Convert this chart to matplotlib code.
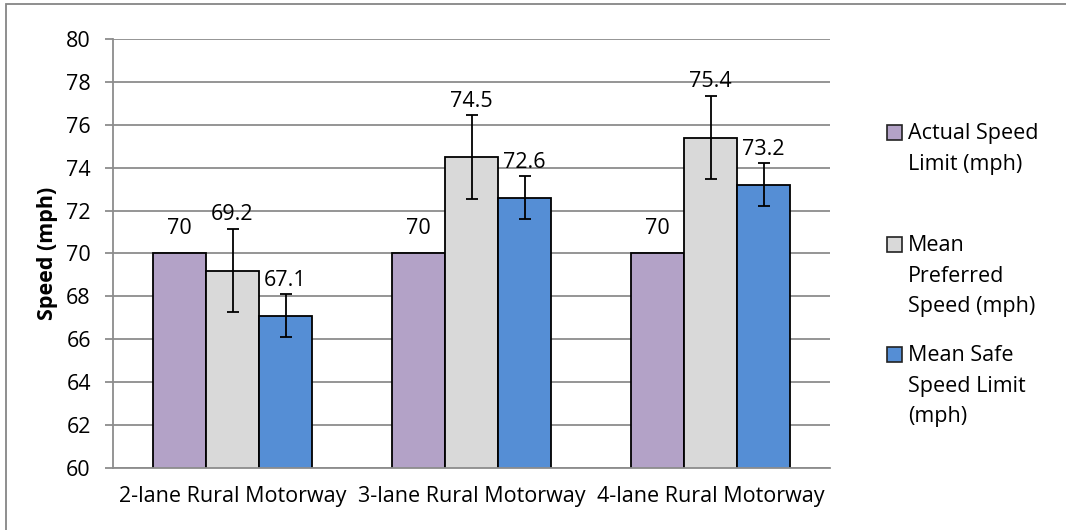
import numpy as np
import matplotlib
matplotlib.use('Agg')
import matplotlib.pyplot as plt
from matplotlib.patches import Rectangle

# data
categories = ['2-lane Rural Motorway', '3-lane Rural Motorway', '4-lane Rural Motorway']
series_names = ['Actual Speed\nLimit (mph)', 'Mean\nPreferred\nSpeed (mph)', 'Mean Safe\nSpeed Limit\n(mph)']
actual_limit = [70, 70, 70]
preferred_speed = [69.2, 74.5, 75.4]
preferred_err = [1.95, 1.95, 1.95]
safe_limit = [67.1, 72.6, 73.2]
safe_err = [1.0, 1.0, 1.0]

colors = ['#B3A2C7', '#D9D9D9', '#558ED5']
grid_col = '#8C8C8C'

plt.rcParams['font.family'] = ['Open Sans', 'DejaVu Sans']
fs = 15.5

fig = plt.figure(figsize=(10.66, 5.30), dpi=100)
ax = fig.add_axes([113 / 1066, 1 - 468 / 530, (830 - 113) / 1066, (468 - 39) / 530])

x = np.arange(len(categories))
w = 0.222
values = [actual_limit, preferred_speed, safe_limit]
errs = [None, preferred_err, safe_err]
label_pad = [18, 10, 10]

for i, (vals, err) in enumerate(zip(values, errs)):
    xs = x + (i - 1) * w
    ax.bar(xs, vals, width=w, color=colors[i], edgecolor='black', linewidth=1.3, zorder=3)
    if err is not None:
        ax.errorbar(xs, vals, yerr=err, fmt='none', ecolor='black', elinewidth=1.3,
                    capsize=4.5, capthick=1.3, zorder=4)
    for xi, v, e in zip(xs, vals, err if err is not None else [0] * len(vals)):
        ax.annotate(f'{v:g}', (xi, v + e), xytext=(0, label_pad[i]), textcoords='offset points',
                    ha='center', va='center', fontsize=fs, color='black', zorder=5)

ax.set_ylim(60, 80)
ax.set_xlim(-0.5, 2.5)
ax.set_yticks(np.arange(60, 81, 2))
ax.set_xticks(x)
ax.set_xticklabels(categories, fontsize=fs)
ax.tick_params(axis='y', labelsize=fs, length=6, width=1.3, color=grid_col, pad=10)
ax.tick_params(axis='x', length=0, pad=13)
ax.yaxis.grid(True, color=grid_col, linewidth=1.3, zorder=0)
ax.set_axisbelow(True)
for s in ['top', 'right']:
    ax.spines[s].set_visible(False)
for s in ['left', 'bottom']:
    ax.spines[s].set_color(grid_col)
    ax.spines[s].set_linewidth(1.3)
ax.spines['bottom'].set_zorder(5)
ax.set_ylabel('Speed (mph)', fontsize=fs, fontweight='bold', labelpad=6)

# legend drawn by hand so the box sits next to the first line
leg_y = [133, 245, 355]
for name, col, yy in zip(series_names, colors, leg_y):
    fig.patches.append(Rectangle((887 / 1066, 1 - (yy + 7) / 530), 15 / 1066, 15 / 530,
                                 transform=fig.transFigure, facecolor=col,
                                 edgecolor='#222222', linewidth=1.2))
    fig.text(908 / 1066, 1 - (yy - 10) / 530, name, fontsize=fs, va='top', ha='left',
             linespacing=1.6)

# outer chart frame (cropped on right/bottom)
fig.patches.append(Rectangle((6 / 1066, -0.1), 1.2, 1 - 4 / 530 + 0.1,
                             transform=fig.transFigure, fill=False,
                             edgecolor='#868686', linewidth=1.3))

fig.savefig('out.png', dpi=100)
